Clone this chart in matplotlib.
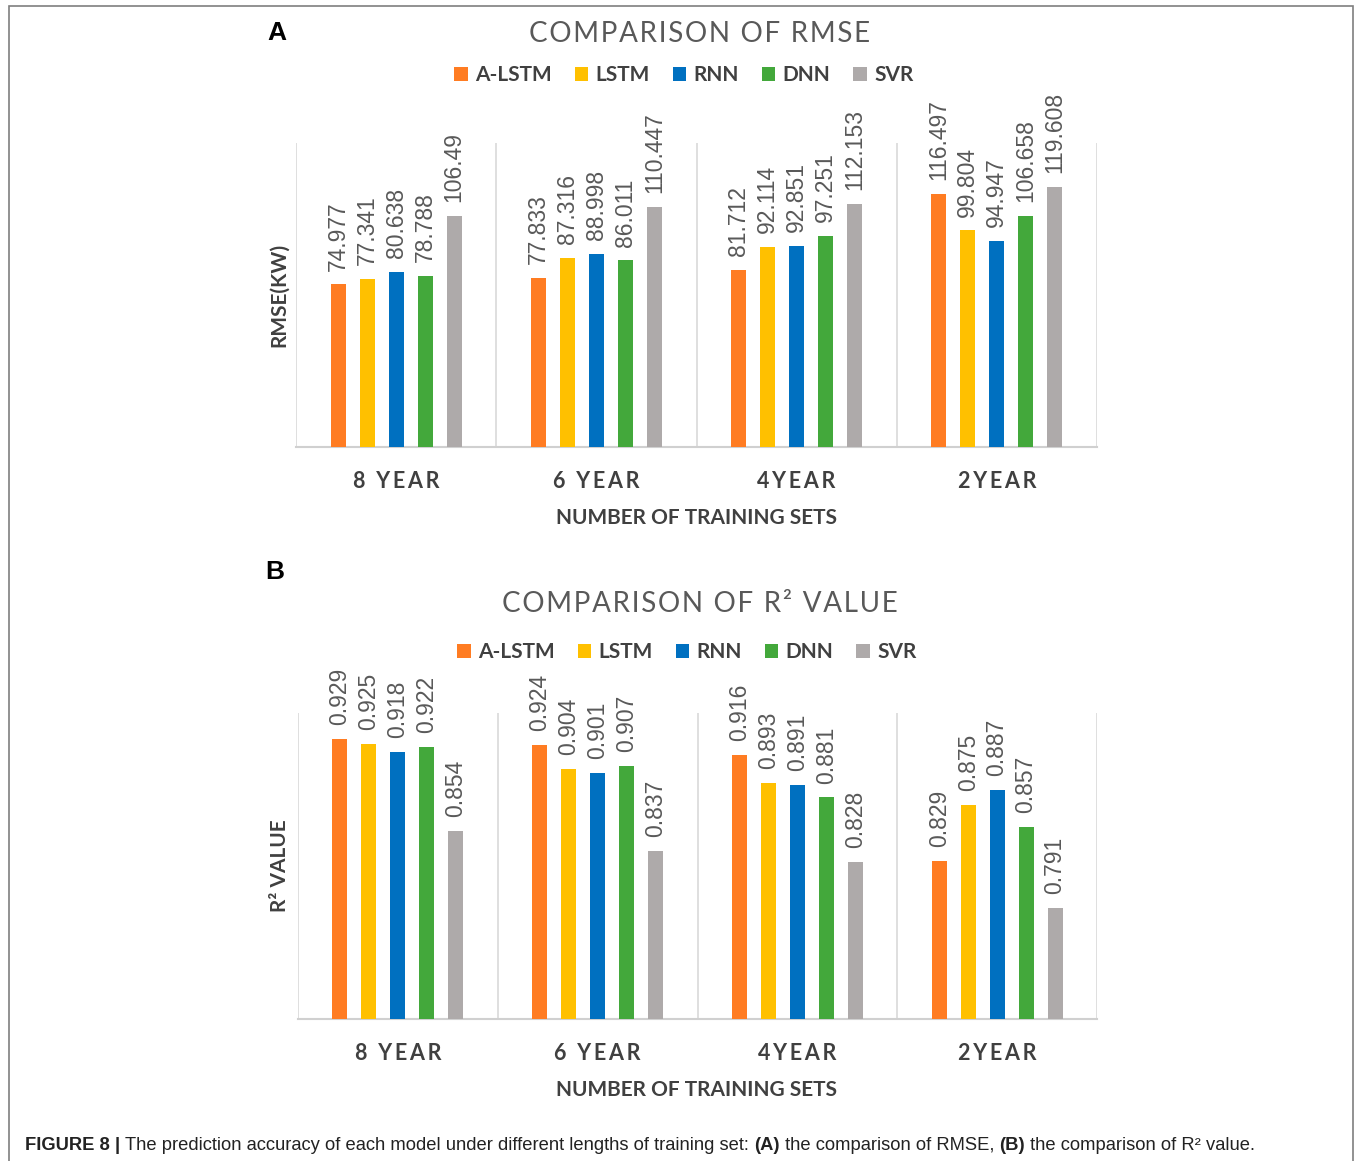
import numpy as np
from matplotlib import pyplot as plt
from matplotlib.patches import Rectangle

# Data
years = ["8 YEAR", "6 YEAR", "4YEAR", "2YEAR"]
models = ["A-LSTM", "LSTM", "RNN", "DNN", "SVR"]

rmse_alstm = [74.977, 77.833, 81.712, 116.497]
rmse_lstm = [77.341, 87.316, 92.114, 99.804]
rmse_rnn = [80.638, 88.998, 92.851, 94.947]
rmse_dnn = [78.788, 86.011, 97.251, 106.658]
rmse_svr = [106.49, 110.447, 112.153, 119.608]

r2_alstm = [0.929, 0.924, 0.916, 0.829]
r2_lstm = [0.925, 0.904, 0.893, 0.875]
r2_rnn = [0.918, 0.901, 0.891, 0.887]
r2_dnn = [0.922, 0.907, 0.881, 0.857]
r2_svr = [0.854, 0.837, 0.828, 0.791]

colors = ["#FF7C22", "#FFC000", "#0070C0", "#43A83B", "#AEAAAA"]

W, H = 1357, 1161
fig = plt.figure(figsize=(W / 100, H / 100), dpi=100)

FONT = ["Lato", "DejaVu Sans"]
TXT = "#404040"
LBL = "#595959"


def track(s, sp="\u200a"):
    # rough letter spacing
    return sp.join(s)


def px_axes(left, top, right, bottom):
    return fig.add_axes([left / W, 1 - bottom / H, (right - left) / W, (bottom - top) / H])


def panel(ax, series, ylim, fmt, title, ylabel, letter, title_y, leg_y, leg_x, letter_xy, xlab_y, ylab_x):
    x = np.arange(len(years))
    step, width = 0.145, 0.075
    for i, (vals, c, name) in enumerate(zip(series, colors, models)):
        bars = ax.bar(x + (i - 2) * step, vals, width=width, color=c, label=name, zorder=3)
        for b, v in zip(bars, vals):
            ax.annotate(
                fmt(v),
                (b.get_x() + b.get_width() / 2, b.get_height()),
                xytext=(0, 10),
                textcoords="offset points",
                rotation=90,
                ha="center",
                va="bottom",
                fontsize=16.5,
                color=LBL,
                family="Liberation Sans",
            )
    ax.set_ylim(*ylim)
    ax.set_xlim(-0.5, len(years) - 0.5)
    ax.set_yticks([])
    ax.set_xticks(x)
    ax.set_xticklabels([track(y, "\u2009") for y in years], family=FONT, fontsize=15.5,
                       fontweight="bold", color=TXT)
    ax.tick_params(axis="x", length=0, pad=17)
    for b in np.arange(-0.5, len(years), 1.0):
        ax.axvline(b, color="#D9D9D9", lw=1.2, zorder=1)
    for s in ["top", "right", "left"]:
        ax.spines[s].set_visible(False)
    ax.spines["bottom"].set_color("#D0D0D0")
    ax.spines["bottom"].set_linewidth(1.5)

    fig.text(700 / W, 1 - title_y / H, track(title), ha="center", va="center",
             family=FONT, fontsize=20, fontweight="normal", color=LBL)
    fig.text(696 / W, 1 - xlab_y / H, "NUMBER OF TRAINING SETS", ha="center", va="center",
             family=FONT, fontsize=15, fontweight="bold", color=TXT)
    pos = ax.get_position()
    fig.text(ylab_x / W, pos.y0 + pos.height / 2, ylabel, rotation=90, ha="center", va="center",
             family=FONT, fontsize=15, fontweight="bold", color=TXT)
    fig.text(letter_xy[0] / W, 1 - letter_xy[1] / H, letter, ha="left", va="center",
             family="Liberation Sans", fontsize=19, fontweight="bold", color="black")
    leg = ax.legend(
        loc="center",
        bbox_to_anchor=(leg_x / W, 1 - leg_y / H),
        bbox_transform=fig.transFigure,
        ncol=5,
        frameon=False,
        handlelength=0.65,
        handleheight=0.65,
        handletextpad=0.35,
        columnspacing=1.1,
        prop={"family": FONT, "size": 15, "weight": "bold"},
    )
    for t in leg.get_texts():
        t.set_color(TXT)


axA = px_axes(296, 143, 1097, 447.5)
panel(axA, [rmse_alstm, rmse_lstm, rmse_rnn, rmse_dnn, rmse_svr], (0, 140),
      lambda v: f"{v:g}", "COMPARISON OF RMSE", "RMSE(KW)", "A",
      34, 75, 684, (267, 33), 518, 279)

axB = px_axes(298, 713, 1097, 1019)
panel(axB, [r2_alstm, r2_lstm, r2_rnn, r2_dnn, r2_svr], (0.7, 0.95),
      lambda v: f"{v:.3f}", "COMPARISON OF R² VALUE", "R² VALUE", "B",
      604, 652, 687, (265, 572), 1090, 280)

# caption: each piece starts where the previous one ended
pieces = [
    ("FIGURE 8 | ", "bold"),
    ("The prediction accuracy of each model under different lengths of training set: ", "normal"),
    ("(A)", "bold"),
    (" the comparison of RMSE, ", "normal"),
    ("(B)", "bold"),
    (" the comparison of R² value.", "normal"),
]
CAP = 13.25
prev = fig.text(25 / W, 1 - 1154 / H, pieces[0][0], ha="left", va="bottom",
                family="Liberation Sans", fontsize=CAP, fontweight="bold", color="#222222")
for txt, wt in pieces[1:]:
    prev = fig.add_artist(plt.Annotation(txt, xy=(1, 0), xycoords=prev, ha="left", va="bottom",
                                          family="Liberation Sans", fontsize=CAP, fontweight=wt,
                                          color="#222222"))

# outer frame (no bottom edge)
fig.add_artist(Rectangle((9 / W, -0.05), 1344 / W, 1.05 - 6 / H, transform=fig.transFigure,
                         fill=False, edgecolor="#7F7F7F", lw=1.2))

plt.savefig("out.png", dpi=100)
